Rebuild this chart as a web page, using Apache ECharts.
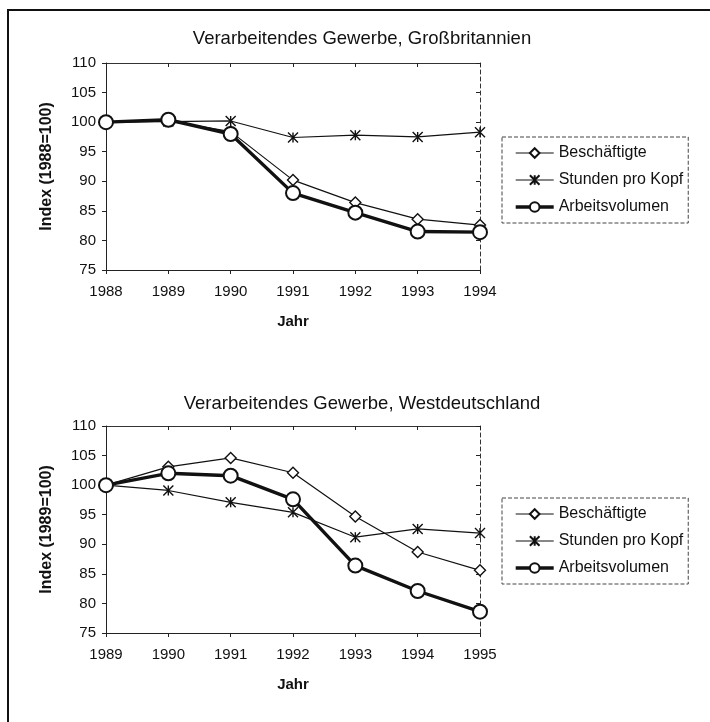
<!DOCTYPE html>
<html>
<head>
<meta charset="utf-8">
<script src="https://cdn.jsdelivr.net/npm/echarts@6/dist/echarts.min.js"></script>
<style>
  html, body { margin: 0; padding: 0; background: #fff; }
  #chart { width: 710px; height: 722px; }
</style>
</head>
<body>
<div id="chart"></div>
<script>
// Großbritannien, 1988 = 100
const yearsGB = ['1988', '1989', '1990', '1991', '1992', '1993', '1994'];
const beschGB = [100, 100.2, 98.4, 90.2, 86.4, 83.6, 82.6];
const stundenGB = [100, 100.1, 100.2, 97.4, 97.8, 97.5, 98.3];
const volumenGB = [100, 100.4, 98.0, 88.0, 84.7, 81.5, 81.4];

// Westdeutschland, 1989 = 100
const yearsWD = ['1989', '1990', '1991', '1992', '1993', '1994', '1995'];
const beschWD = [100, 103.1, 104.6, 102.1, 94.7, 88.7, 85.6];
const stundenWD = [100, 99.1, 97.1, 95.4, 91.2, 92.6, 91.9];
const volumenWD = [100, 102.0, 101.6, 97.6, 86.4, 82.1, 78.6];

const titles = ['Verarbeitendes Gewerbe, Großbritannien', 'Verarbeitendes Gewerbe, Westdeutschland'];
const yNames = ['Index (1988=100)', 'Index (1989=100)'];
const seriesNames = ['Beschäftigte', 'Stunden pro Kopf', 'Arbeitsvolumen'];

const FONT = '"Liberation Sans", Arial, sans-serif';
const STAR = 'path://M0,0L10,10M10,0L0,10M5,0L5,10';

const panels = [
  { top: 63, years: yearsGB, data: [beschGB, stundenGB, volumenGB], titleTop: 24, legendTop: 137 },
  { top: 426, years: yearsWD, data: [beschWD, stundenWD, volumenWD], titleTop: 389, legendTop: 498 }
];
const PLOT_H = 207;

const option = {
  animation: false,
  backgroundColor: '#fff',
  textStyle: { fontFamily: FONT, color: '#111' },
  title: [], legend: [], grid: [], xAxis: [], yAxis: [], series: [],
  graphic: [{
    type: 'rect', shape: { x: 8, y: 10, width: 740, height: 740 },
    style: { fill: 'none', stroke: '#111', lineWidth: 2 }, silent: true
  }]
};

const styles = [
  { symbol: 'diamond', symbolSize: 11, width: 1.2, fill: '#fff' },
  { symbol: STAR, symbolSize: 10, width: 1.2, fill: '#111' },
  { symbol: 'circle', symbolSize: 14, width: 3.4, fill: '#fff' }
];

panels.forEach((p, i) => {
  option.title.push({
    text: titles[i], left: 357, top: p.titleTop, textAlign: 'center',
    textStyle: { fontFamily: FONT, fontSize: 18.5, fontWeight: 'normal', color: '#111' }
  });
  option.grid.push({ left: 106, width: 374, top: p.top, height: PLOT_H });

  const gi = i;
  const xBase = i * 3;
  const yBase = i * 3;
  // main category axis with outward ticks
  option.xAxis.push({
    type: 'category', gridIndex: gi, data: p.years, boundaryGap: false,
    axisLine: { lineStyle: { color: '#222', width: 1 } },
    axisTick: { show: true, length: 4, lineStyle: { color: '#222' } },
    axisLabel: { fontFamily: FONT, fontSize: 15, color: '#111', margin: 14 },
    name: 'Jahr', nameLocation: 'middle', nameGap: 44,
    nameTextStyle: { fontFamily: FONT, fontSize: 15, fontWeight: 'bold', color: '#111' },
    splitLine: { show: false }
  });
  // inward ticks so the marks cross the axis
  option.xAxis.push({
    type: 'category', gridIndex: gi, data: p.years, boundaryGap: false,
    axisLine: { show: false },
    axisTick: { show: true, inside: true, length: 4, lineStyle: { color: '#222' } },
    axisLabel: { show: false }, splitLine: { show: false }
  });
  // top edge of the plot area
  option.xAxis.push({
    type: 'category', gridIndex: gi, data: p.years, boundaryGap: false, position: 'top',
    axisLine: { lineStyle: { color: '#333', width: 1 } },
    axisTick: { show: false }, axisLabel: { show: false }, splitLine: { show: false }
  });

  option.yAxis.push({
    type: 'value', gridIndex: gi, min: 75, max: 110, interval: 5,
    axisLine: { show: true, lineStyle: { color: '#222', width: 1 } },
    axisTick: { show: true, length: 4, lineStyle: { color: '#222' } },
    axisLabel: { fontFamily: FONT, fontSize: 15, color: '#111', margin: 10 },
    splitLine: { show: false },
    name: yNames[i], nameLocation: 'middle', nameGap: 51, nameRotate: 90,
    nameTextStyle: { fontFamily: FONT, fontSize: 16, fontWeight: 'bold', color: '#111' }
  });
  option.yAxis.push({
    type: 'value', gridIndex: gi, min: 75, max: 110, interval: 5,
    axisLine: { show: false },
    axisTick: { show: true, inside: true, length: 4, lineStyle: { color: '#222' } },
    axisLabel: { show: false }, splitLine: { show: false }
  });
  // dashed right edge of the plot area
  option.yAxis.push({
    type: 'value', gridIndex: gi, min: 75, max: 110, interval: 5, position: 'right',
    axisLine: { show: true, lineStyle: { color: '#333', width: 1, type: [4, 3] } },
    axisTick: { show: false }, axisLabel: { show: false }, splitLine: { show: false }
  });

  const names = seriesNames.map(n => n + (i ? ' ' : ''));
  p.data.forEach((vals, k) => {
    const s = styles[k];
    option.series.push({
      type: 'line', name: names[k], xAxisIndex: xBase, yAxisIndex: yBase,
      data: vals, symbol: s.symbol, symbolSize: s.symbolSize, showSymbol: true,
      lineStyle: { color: '#111', width: s.width },
      itemStyle: { color: s.fill, borderColor: '#111', borderWidth: k === 2 ? 2 : 1.4 },
      z: 2 + k
    });
  });

  option.legend.push({
    data: names.map((n, k) => ({ name: n, lineStyle: { width: styles[k].width, color: '#111' } })),
    orient: 'vertical', left: 502, top: p.legendTop,
    itemWidth: 38, itemHeight: 12, itemGap: 11,
    padding: [8, 5, 8, 12],
    borderColor: '#444', borderWidth: 1, borderType: 'dashed',
    textStyle: { fontFamily: FONT, fontSize: 16, color: '#111' },
    formatter: n => n.trim(),
    selectedMode: false
  });
});

const chart = echarts.init(document.getElementById('chart'), null, { renderer: 'canvas' });
chart.setOption(option);
</script>
</body>
</html>
